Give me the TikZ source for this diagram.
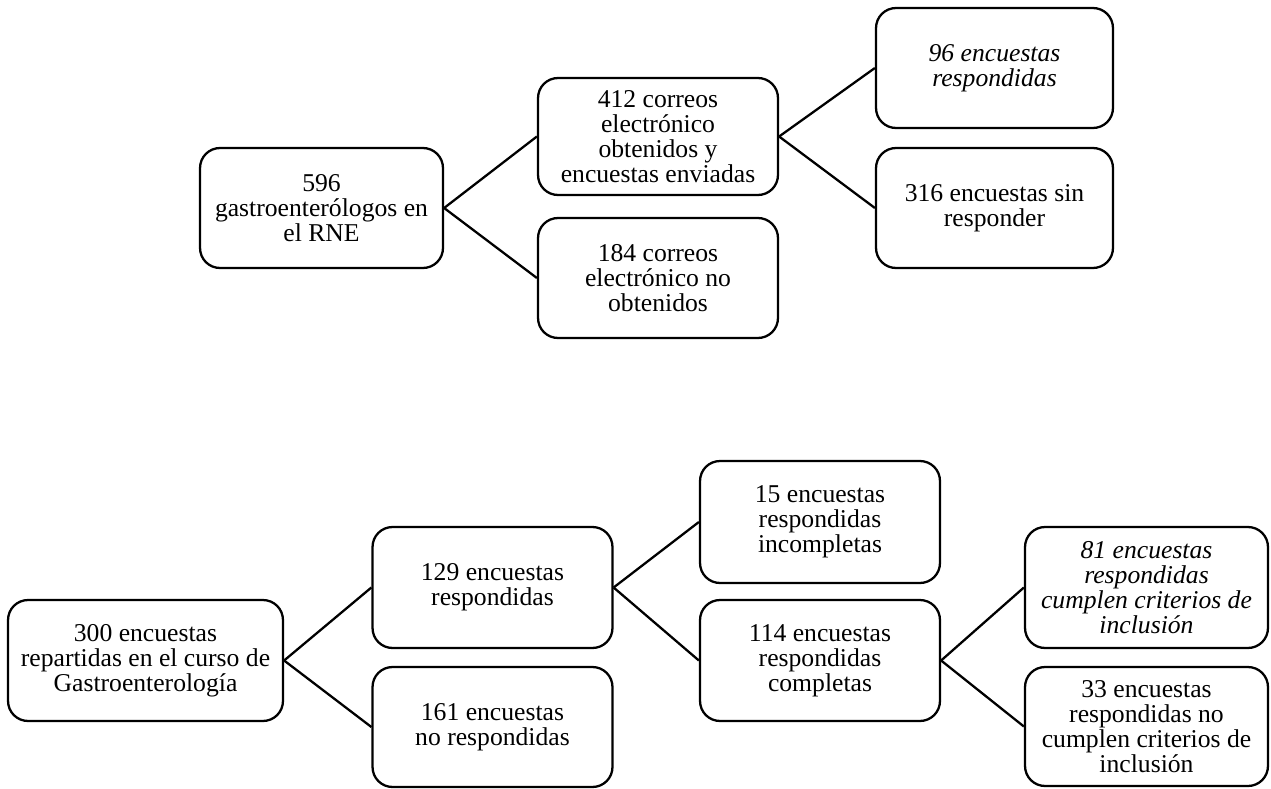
\documentclass[tikz,border=0pt]{standalone}
\usepackage{fontspec}
\setmainfont{Liberation Serif}
\usepackage{tikz}
\usetikzlibrary{positioning}

\begin{document}
\begin{tikzpicture}[x=0.02cm, y=-0.02cm,
    box/.style={draw, line width=1.3pt, rounded corners=0.4cm, align=center,
        inner sep=0pt, minimum width=4.8cm, minimum height=2.4cm,
        font=\fontsize{14.6}{14.3}\selectfont},
    link/.style={line width=1.3pt}]
    \useasboundingbox (0,0) rectangle (1271,788);

    % Upper tree: RNE
    \node[box, minimum width=4.86cm] (rne) at (321.5,208) {596\\gastroenterólogos en\\el RNE};
    \node[box, minimum height=2.34cm] (obt) at (658,136.5) {412 correos\\electrónico\\obtenidos y\\encuestas enviadas};
    \node[box] (noobt) at (658,278) {184 correos\\electrónico no\\obtenidos};
    \node[box, minimum width=4.74cm] (resp) at (994.5,68) {\itshape 96 encuestas\\\itshape respondidas};
    \node[box, minimum width=4.74cm] (sinresp) at (994.5,208) {316 encuestas sin\\responder};

    \draw[link] (rne.east) -- (obt.west);
    \draw[link] (rne.east) -- (noobt.west);
    \draw[link] (obt.east) -- (resp.west);
    \draw[link] (obt.east) -- (sinresp.west);

    % Lower tree: curso
    \node[box, minimum width=5.5cm, minimum height=2.42cm] (curso) at (145.5,660.5) {300 encuestas\\repartidas en el curso de\\Gastroenterología};
    \node[box, minimum height=2.42cm] (cresp) at (492.5,587.5) {129 encuestas\\respondidas};
    \node[box] (cnoresp) at (492.5,727) {161 encuestas\\no respondidas};
    \node[box, minimum height=2.44cm] (incomp) at (820,522) {15 encuestas\\respondidas\\incompletas};
    \node[box, minimum height=2.42cm] (comp) at (820,660.5) {114 encuestas\\respondidas\\completas};
    \node[box, minimum width=4.86cm, minimum height=2.42cm] (cumple) at (1146.5,587.5) {\itshape 81 encuestas\\\itshape respondidas\\\itshape cumplen criterios de\\\itshape inclusión};
    \node[box, minimum width=4.86cm, minimum height=2.38cm] (nocumple) at (1146.5,726.5) {33 encuestas\\respondidas no\\cumplen criterios de\\inclusión};

    \draw[link] (curso.east) -- (cresp.west);
    \draw[link] (curso.east) -- (cnoresp.west);
    \draw[link] (cresp.east) -- (incomp.west);
    \draw[link] (cresp.east) -- (comp.west);
    \draw[link] (comp.east) -- (cumple.west);
    \draw[link] (comp.east) -- (nocumple.west);
\end{tikzpicture}
\end{document}
